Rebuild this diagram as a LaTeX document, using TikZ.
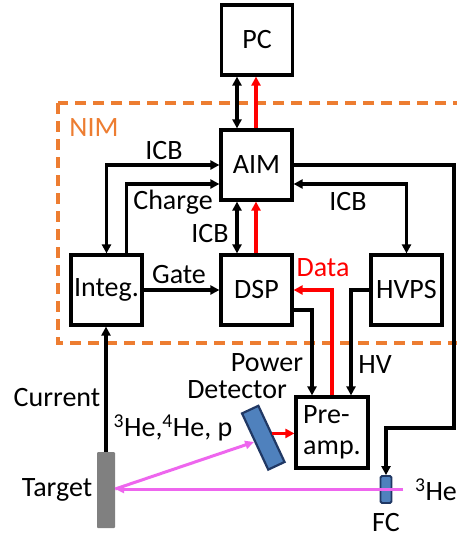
\documentclass[tikz,border=0pt]{standalone}
\usepackage{fontspec}
\setmainfont{Carlito}
\usetikzlibrary{arrows.meta,calc}
\definecolor{nimorange}{RGB}{237,125,49}
\definecolor{beam}{RGB}{238,102,238}
\definecolor{detfill}{RGB}{79,129,189}
\definecolor{detline}{RGB}{32,56,100}
\definecolor{tgtgray}{RGB}{128,128,128}
\tikzset{
  every node/.style={font=\fontsize{28}{31}\selectfont},
  unit/.style={draw, line width=3.2pt, minimum width=71pt, minimum height=70pt, inner sep=0pt},
  wire/.style={line width=3.2pt},
  tip/.style={-{Triangle[length=9pt,width=9pt]}},
  dtip/.style={{Triangle[length=9pt,width=9pt]}-{Triangle[length=9pt,width=9pt]}},
  sig/.style={wire, red},
  ray/.style={line width=3pt, beam, -{Triangle[length=9pt,width=8pt]}},
  lbl/.style={inner sep=0pt},
}
\begin{document}
\begin{tikzpicture}[x=1pt,y=-1pt]
\clip (0,0) rectangle (457,538);
\fill[white] (0,0) rectangle (457,538);

% NIM crate outline
\draw[nimorange, line width=3.2pt, dash pattern=on 11pt off 7pt] (58,103) rectangle (480,343);
\node[lbl, nimorange] (nim) at (94,128) {NIM};

% modules
\node[unit] (pc) at (257,40) {PC};
\node[unit] (aim) at (256.5,165) {AIM};
\node[unit] (integ) at (106.5,290) {Integ.};
\node[unit] (dsp) at (256.5,290) {DSP};
\node[unit] (hvps) at (406.5,290) {HVPS};
\node[unit, minimum width=72pt, minimum height=71pt, align=left] (pre) at (332,432.5) {Pre-\\amp.};

% target, detector, Faraday cup
\node[fill=tgtgray, minimum width=18pt, minimum height=76pt, inner sep=0pt, rounded corners=1pt] (target) at (106,490) {};
\node[draw=detline, fill=detfill, line width=2.2pt, minimum width=18pt, minimum height=62pt, inner sep=0pt, rotate=25] (det) at (263.3,437.7) {};
\node[draw=detline, fill=detfill, line width=1.8pt, minimum width=11pt, minimum height=27pt, inner sep=0pt, rounded corners=1.5pt] (fc) at (386,489.5) {};

% column positions
\coordinate (cx1) at (237,0);
\coordinate (cx2) at (256,0);
\coordinate (bend) at (454,428);
\coordinate (src) at (403,489);

% PC <-> AIM
\draw[wire, dtip] (pc.south -| cx1) -- (aim.north -| cx1);
\draw[sig, tip] (aim.north -| cx2) -- (pc.south -| cx2);

% AIM <-> DSP
\draw[wire, dtip] (aim.south -| cx1) -- (dsp.north -| cx1);
\draw[sig, tip] (dsp.north -| cx2) -- (aim.south -| cx2);

% Integrator links
\draw[wire, dtip] (integ.north) |- (aim.west);
\draw[wire, tip] ($(integ.north)+(20,0)$) |- ($(aim.west)+(0,19)$);
\draw[wire, tip] (integ.east) -- (dsp.west);

% AIM <-> HVPS
\draw[wire, dtip] ($(aim.east)+(0,19)$) -| (hvps.north);

% AIM -> FC
\draw[wire, tip] (aim.east) -| (bend) -| (fc.north);

% preamp links
\draw[sig, tip] (pre.north) |- (dsp.east);
\draw[wire, tip] ($(dsp.east)+(0,20)$) -| ($(pre.north)+(-20,0)$);
\draw[wire, tip] (hvps.west) -| ($(pre.north)+(19,0)$);
\draw[sig, tip] (det.east) -- (det.east -| pre.west);

% target current
\draw[wire, tip] (target.north) -- (target.north |- integ.south);

% beam and reaction products
\draw[ray] (src) -- (src -| target.east);
\draw[ray] ($(target.east)+(0,-1)$) -- (det.west);

% labels
\node[lbl] (licb1) at (164,151) {ICB};
\node[lbl] (lchg) at (173,202) {Charge};
\node[lbl] (licb2) at (210,234) {ICB};
\node[lbl] (licb3) at (348,202) {ICB};
\node[lbl] (lgate) at (179,275) {Gate};
\node[lbl, red] (ldata) at (323,268) {Data};
\node[lbl, anchor=base] (lpow) at (267,371) {Power};
\node[lbl] (lhv) at (375,365) {HV};
\node[lbl, anchor=base] (ldet) at (237,398) {Detector};
\node[lbl] (lcur) at (57,398) {Current};
\node[lbl] (lprod) at (173,428) {\textsuperscript{3}He,\textsuperscript{4}He, p};
\node[lbl] (ltgt) at (57,490) {Target};
\node[lbl] (lhe) at (436,490) {\textsuperscript{3}He};
\node[lbl] (lfc) at (386,523) {FC};
\end{tikzpicture}
\end{document}
